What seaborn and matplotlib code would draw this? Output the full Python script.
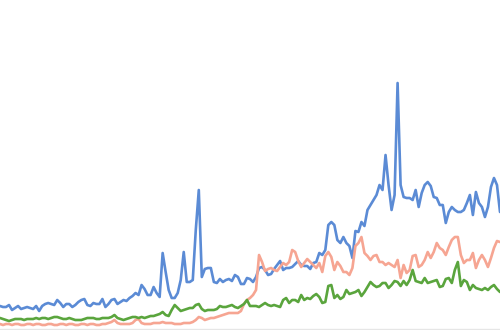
import matplotlib
matplotlib.use("Agg")
import matplotlib.pyplot as plt
import seaborn as sns
import pandas as pd
import numpy as np

# Weekly interest (relative units, 0 = baseline)
blue_y = [306,307,307,305,310,308,306,309,308,307,308,309,306,311,306,304,303,304,305,300,
          303,307,304,304,307,305,302,300,299,305,306,303,304,304,299,307,304,300,299,304,
          302,300,301,298,296,293,295,285,289,295,295,287,293,297,253,272,290,298,298,293,
          280,252,282,282,280,230,190,277,269,268,268,282,283,279,282,280,279,281,275,277,
          284,284,278,279,282,277,268,267,270,275,274,269,265,261,270,268,268,267,264,261,
          265,266,266,269,263,262,253,255,250,225,222,225,240,243,237,243,246,258,231,232,
          222,226,210,205,200,195,185,190,155,185,210,195,83,185,197,198,198,200,190,207,
          193,185,182,186,197,198,205,205,223,212,207,210,212,212,210,203,195,215,192,203,
          207,217,207,187,178,185,212]
red_y = [324,325,324,324,325,324,324,325,325,324,324,325,324,324,325,325,324,324,325,325,
         324,324,325,324,324,325,325,324,324,325,324,324,325,325,324,324,323,322,320,323,
         324,324,324,324,323,320,319,323,324,324,324,323,323,323,322,323,323,323,324,324,
         324,323,323,323,322,320,317,318,320,319,318,318,317,316,315,314,313,313,313,313,
         311,304,300,298,295,290,255,262,271,269,268,270,271,267,263,265,262,250,252,261,
         267,263,259,262,265,268,263,272,256,252,257,270,262,266,272,272,275,268,246,243,
         237,253,256,260,256,255,262,262,265,263,265,267,260,278,265,273,270,256,255,267,
         265,260,252,258,252,243,248,250,255,247,240,237,237,255,263,260,260,253,268,260,
         255,260,267,258,248,241,242]
green_y = [318,319,320,321,320,319,319,319,320,319,319,319,318,319,318,318,319,318,317,317,
           318,319,319,318,319,320,320,320,319,318,318,318,319,319,318,318,318,317,315,318,
           319,320,319,318,317,317,318,317,318,317,316,316,315,314,312,315,316,310,305,308,
           311,310,309,308,308,305,304,309,311,310,310,310,309,306,307,307,306,305,307,308,
           306,304,300,306,306,306,307,305,303,305,306,305,306,307,300,298,303,300,300,302,
           295,300,298,299,296,294,297,303,302,286,285,298,295,299,297,290,294,293,292,290,
           296,292,287,282,285,287,286,283,283,288,285,281,282,286,281,285,280,270,281,282,
           283,278,283,282,281,280,287,286,279,278,283,270,262,286,280,282,290,285,288,289,
           290,288,290,287,285,289,292]

BASE = 328
series_names = ["Series A", "Series B", "Series C"]
frames = []
for name, ys in zip(series_names, [blue_y, red_y, green_y]):
    frames.append(pd.DataFrame({"week": np.arange(len(ys)),
                                "interest": [BASE - v for v in ys],
                                "series": name}))
df = pd.concat(frames, ignore_index=True)

sns.set_theme(style="white")
fig = plt.figure(figsize=(5.0, 3.3), dpi=100)
ax = fig.add_axes([0, 0, 1, 1])
palette = {"Series A": "#5b8bd5", "Series B": "#f6a592", "Series C": "#5aa53d"}
sns.lineplot(data=df, x="week", y="interest", hue="series", palette=palette,
             linewidth=1.9, ax=ax, legend=False)
ax.axhline(-1, color="#e6e6e6", linewidth=1.0, zorder=0)
ax.set_xlim(0, len(blue_y) - 1)
ax.set_ylim(-2, 328)
ax.set_axis_off()
fig.savefig("out.png", dpi=100, facecolor="white")
